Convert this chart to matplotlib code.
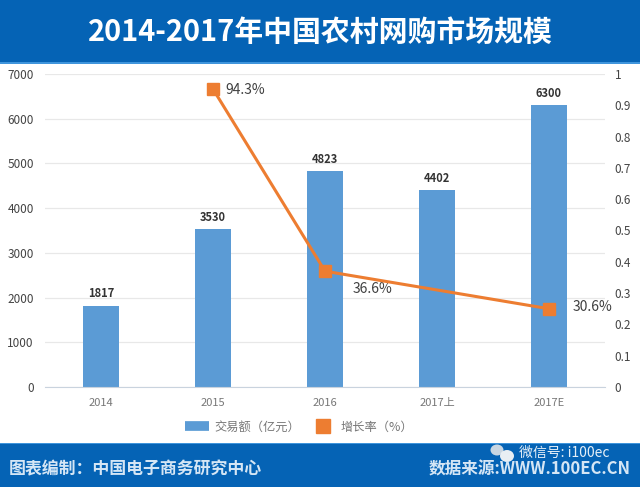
import matplotlib
matplotlib.use('Agg')
import matplotlib.pyplot as plt
from matplotlib.patches import Rectangle, Ellipse
from matplotlib.lines import Line2D

plt.rcParams['font.family'] = ['Noto Sans CJK SC', 'DejaVu Sans']
plt.rcParams['axes.unicode_minus'] = False

categories = ['2014', '2015', '2016', '2017上', '2017E']
amounts = [1817, 3530, 4823, 4402, 6300]
rate_idx = [1, 2, 4]
rates = [0.952, 0.37, 0.25]
rate_labels = ['94.3%', '36.6%', '30.6%']
left_ticks = [0, 1000, 2000, 3000, 4000, 5000, 6000, 7000]
right_ticks = [0, 0.1, 0.2, 0.3, 0.4, 0.5, 0.6, 0.7, 0.8, 0.9, 1]
right_labels = ['0', '0.1', '0.2', '0.3', '0.4', '0.5', '0.6', '0.7', '0.8', '0.9', '1']

BLUE = '#5B9BD5'
ORANGE = '#ED7D31'
HEADER = '#0563B5'
W, H = 640, 487

fig = plt.figure(figsize=(W / 100, H / 100), dpi=100, facecolor='white')

# header and footer bands
fig.add_artist(Rectangle((0, 1 - 62 / H), 1, 62 / H, transform=fig.transFigure, color=HEADER, lw=0))
fig.add_artist(Rectangle((0, 0), 1, 43 / H, transform=fig.transFigure, color=HEADER, lw=0))
fig.add_artist(Rectangle((0, 1 - 64 / H), 1, 2 / H, transform=fig.transFigure, color='#3F95DC', lw=0))
fig.add_artist(Rectangle((0, 43 / H), 1, 1.5 / H, transform=fig.transFigure, color='#3F95DC', lw=0))
fig.text(320 / W, 1 - 32 / H, '2014-2017年中国农村网购市场规模', color='white', fontsize=20.8,
         fontweight='bold', ha='center', va='center')
fig.text(9 / W, 1 - 469 / H, '图表编制：中国电子商务研究中心', color='#D5E6F5', fontsize=12.2,
         fontweight='bold', ha='left', va='center')
fig.text(631 / W, 1 - 469 / H, '数据来源:WWW.100EC.CN', color='#D5E6F5', fontsize=12,
         fontweight='bold', ha='right', va='center')
fig.text(519 / W, 1 - 453 / H, '微信号: i100ec', color='white', fontsize=10, ha='left', va='center', alpha=0.9)

# small wechat icon in the watermark
fig.add_artist(Ellipse((497 / W, 1 - 450 / H), 13 / W, 11 / H, transform=fig.transFigure, color='#C9D6E2', lw=0))
fig.add_artist(Ellipse((507 / W, 1 - 456 / H), 14 / W, 12 / H, transform=fig.transFigure, color='#E8EEF3', lw=0))

ax = fig.add_axes([45 / W, 1 - 387 / H, 560 / W, 313 / H])
x = list(range(len(categories)))
ax.bar(x, amounts, width=0.315, color=BLUE, zorder=2)
ax.set_xlim(-0.5, 4.5)
ax.set_ylim(0, 7000)
ax.set_yticks(left_ticks)
ax.set_xticks(x)
ax.set_xticklabels(categories)
ax.grid(axis='y', color='#E8E8E8', lw=0.9, zorder=0)
ax.set_axisbelow(True)
for s in ax.spines.values():
    s.set_visible(False)
ax.spines['bottom'].set_visible(True)
ax.spines['bottom'].set_color('#C9D3DE')
ax.tick_params(axis='x', length=0, pad=8, labelsize=8, labelcolor='#777777')
ax.tick_params(axis='y', length=0, pad=8, labelsize=8.5, labelcolor='#444444')
for lab in ax.get_yticklabels():
    lab.set_fontweight('medium')
for i, v in enumerate(amounts):
    ax.text(i, v + 120, str(v), ha='center', va='bottom', fontsize=8, color='#333333', fontweight='bold')

ax2 = ax.twinx()
ax2.set_ylim(0, 1)
ax2.set_yticks(right_ticks)
ax2.set_yticklabels(right_labels)
ax2.tick_params(axis='y', length=0, pad=7, labelsize=8.5, labelcolor='#444444')
for s in ax2.spines.values():
    s.set_visible(False)
ax2.plot(rate_idx, rates, color=ORANGE, lw=2.2, marker='s', ms=8, zorder=5)

label_offsets = [(9, -1), (20, -13), (17, 1)]
for i, v, t, off in zip(rate_idx, rates, rate_labels, label_offsets):
    ax2.annotate(t, (i, v), xytext=off, textcoords='offset points', fontsize=10,
                 color='#404040', ha='left', va='center', fontweight='medium')

handles = [Line2D([], [], color=BLUE, lw=7, solid_capstyle='butt', label='交易额（亿元）'),
           Line2D([], [], color=ORANGE, marker='s', ls='', ms=10, label='增长率（%）')]
fig.legend(handles=handles, loc='center', bbox_to_anchor=(299 / W, 1 - 427 / H), ncol=2, frameon=False,
           fontsize=8.8, labelcolor='#777777', columnspacing=0.9, handlelength=2.0, handletextpad=0.4)

fig.savefig('out.png', dpi=100)
